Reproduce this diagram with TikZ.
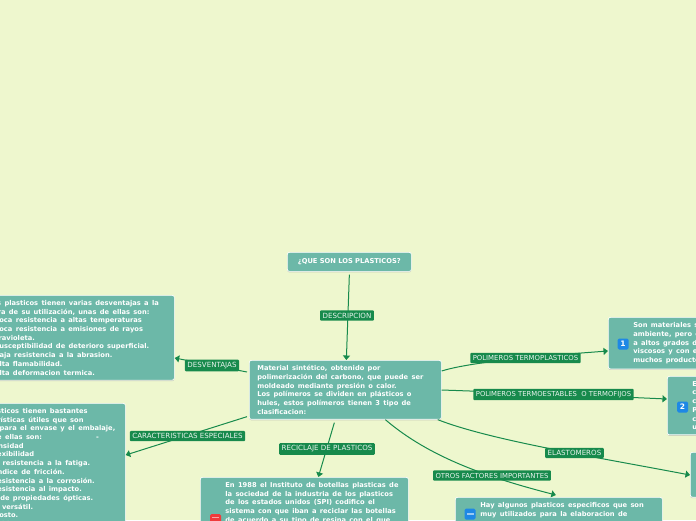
\documentclass[tikz,border=0pt]{standalone}
\usepackage{fontspec}
\setmainfont{DejaVu Sans}
\usetikzlibrary{arrows.meta,calc,shadows}
\definecolor{bgc}{HTML}{EEF7CE}
\definecolor{boxc}{HTML}{6CB8A8}
\definecolor{labc}{HTML}{178A4C}
\definecolor{iconb}{HTML}{1E88E5}
\definecolor{iconr}{HTML}{EF3B3B}
\newcommand{\boxfont}{\fontsize{6.7}{8.7}\selectfont\bfseries}
\newcommand{\tikzpadding}{0pt}
\tikzset{
 x=1pt,y=-1pt,
 basebox/.style={draw=white,line width=.7pt,fill=boxc,rounded corners=2pt,text=white,anchor=north west,
   drop shadow={shadow xshift=0pt,shadow yshift=-1pt,fill=black!35,opacity=.5,shadow scale=1}},
 infobox/.style={basebox,inner xsep=8pt,inner ysep=5pt,text width=#1,
   execute at begin node={\boxfont\leftskip=\tikzpadding\relax\rightskip=-40pt plus 1fil\relax}},
 titlebox/.style={basebox,inner sep=0pt,minimum width=124pt,minimum height=19pt,align=center,font=\boxfont},
 linklabel/.style={fill=labc,text=white!90!labc,rounded corners=1pt,inner xsep=2.5pt,inner ysep=2.5pt,
   font=\fontsize{7.1}{7.5}\selectfont},
 conn/.style={draw=labc,line width=1pt,-{Triangle[length=4.5pt,width=7pt]}},
 iconbox/.style={fill=iconb,rounded corners=1.5pt,minimum size=11pt,inner sep=0pt,text=white,
   font=\fontsize{7.5}{8}\selectfont\bfseries},
}
\begin{document}
\begin{tikzpicture}
\useasboundingbox (0,0) rectangle (696,520);
\clip (0,0) rectangle (696,520);
\fill[bgc] (0,0) rectangle (696,520);
% boxes
\node[titlebox] (top) at (287,252) {¿QUE SON LOS PLASTICOS?};
\node[infobox=176pt] (main) at (249,360) {Material sintético, obtenido por\\
polimerización del carbono, que puede ser\\
moldeado mediante presión o calor.\\
Los polímeros se dividen en plásticos o\\
hules, estos polímeros tienen 3 tipo de\\
clasificacion:};
\node[infobox=178pt] (desv) at (-20,295) {Los plasticos tienen varias desventajas a la\\
hora de su utilización, unas de ellas son:\\
- Poca resistencia a altas temperaturas\\
- Poca resistencia a emisiones de rayos\\
ultravioleta.\\
- Susceptibilidad de deterioro superficial.\\
- Baja resistencia a la abrasion.\\
- Alta flamabilidad.\\
- Alta deformacion termica.};
\node[infobox=148pt] (carac) at (-39,403) {Los plasticos tienen bastantes\\
características útiles  que son\\
ideales para el envase y el embalaje,\\
\hspace*{-10pt}algunas de ellas son:\hspace{54pt}-\\
Baja densidad\\
\hspace*{21pt}Flexibilidad\\
- Buena resistencia a la fatiga.\\
- Bajo indice de fricción.\\
- Alta resistencia a la corrosión.\\
- Alta resistencia al impacto.\\
- Gama de propiedades ópticas.\\
\hspace*{-2pt}Material versátil.\\
- Bajo costo.\\
- Reciclable.};
\renewcommand{\tikzpadding}{17pt}
\node[infobox=192pt] (recic) at (200,477) {En 1988 el Instituto de botellas plasticas de\\
la sociedad de la industria de los plasticos\\
de los estados unidos (SPI) codifico el\\
sistema con que iban a reciclar las botellas\\
de acuerdo a su tipo de resina con el que};
\node[infobox=191pt] (otros) at (455,497) {Hay algunos plasticos especificos que son\\
muy utilizados para la elaboracion de\\
\ };
\node[infobox=200pt] (t1) at (608,317) {Son materiales sólidos a temperatura\\
ambiente, pero cuando se someten\\
a altos grados de calor se vuelven\\
viscosos y con ellos se elaboran\\
muchos productos.};
\node[infobox=200pt] (t2) at (667,376) {Es\\ca\\co\\Pu\\cu\\us};
\node[infobox=200pt] (t3) at (690,452) {\ \\ \ \\ \ \\ \ \\ \ };
\renewcommand{\tikzpadding}{0pt}
% icons
\node[iconbox] (i1) at (623,344) {1};
\node[iconbox] (i2) at (682.5,407) {2};
\node[iconbox,fill=iconr] (ir) at (215.5,519.5) {};
\node[iconbox] (ib) at (470,514) {};
\fill[white,opacity=.55] ($(ib.center)+(-3.5,-.6)$) rectangle ($(ib.center)+(3.5,.6)$);
\fill[white,opacity=.55] ($(ir.center)+(-3.5,-3)$) rectangle ($(ir.center)+(3.5,-1.8)$);
% anchors of connectors
\coordinate (a0) at ($(top.south)+(0,3)$);
\coordinate (a1) at ($(main.north)+(1,0)$);
\coordinate (b0) at ($(main.north west)+(-2,12)$);
\coordinate (b1) at ($(desv.north east)+(0,63)$);
\coordinate (c0) at ($(main.south west)+(-2,-3)$);
\coordinate (c1) at ($(carac.north east)+(0,52)$);
\coordinate (d0) at ($(main.south)+(-11,3)$);
\coordinate (d1) at ($(recic.north)+(14,0)$);
\coordinate (e0) at ($(main.south)+(40,0)$);
\coordinate (e1) at ($(otros.north)+(-3,-2)$);
\coordinate (f0) at ($(main.south east)+(-4,0)$);
\coordinate (f1) at ($(t3.north west)+(0,23)$);
\coordinate (g0) at ($(main.north east)+(0,11)$);
\coordinate (g1) at ($(t1.north west)+(0,34)$);
\coordinate (h0) at ($(main.north east)+(0,30)$);
\coordinate (h1) at ($(t2.north west)+(0,23)$);
% connectors
\draw[conn] (a0) -- (a1);
\draw[conn] (b0) -- (b1);
\draw[conn] (c0) -- (c1);
\draw[conn] (d0) -- (d1);
\draw[conn] (e0) .. controls (430,458) and (490,478) .. (e1);
\draw[conn] (f0) .. controls (490,440) and (590,456) .. (f1);
\draw[conn] (g0) .. controls (470,362) and (540,356) .. (g1);
\draw[conn] (h0) .. controls (500,392) and (600,396) .. (h1);
% labels
\node[linklabel] (l1) at (347,315.5) {DESCRIPCION};
\node[linklabel] (l2) at (212,365.5) {DESVENTAJAS};
\node[linklabel] (l3) at (187.5,436) {CARACTERISTICAS ESPECIALES};
\node[linklabel] (l4) at (327,449) {RECICLAJE DE PLASTICOS};
\node[linklabel,font=\fontsize{6.9}{7.5}\selectfont] (l5) at (492,475.5) {OTROS FACTORES IMPORTANTES};
\node[linklabel] (l6) at (574.5,453) {ELASTOMEROS};
\node[linklabel,font=\fontsize{6.9}{7.5}\selectfont] (l7) at (525.5,358) {POLIMEROS TERMOPLASTICOS\hspace{5pt}};
\node[linklabel,font=\fontsize{6.85}{7.5}\selectfont] (l8) at (553.5,394.5) {POLIMEROS TERMOESTABLES\ \ O TERMOFIJOS};
\end{tikzpicture}
\end{document}
